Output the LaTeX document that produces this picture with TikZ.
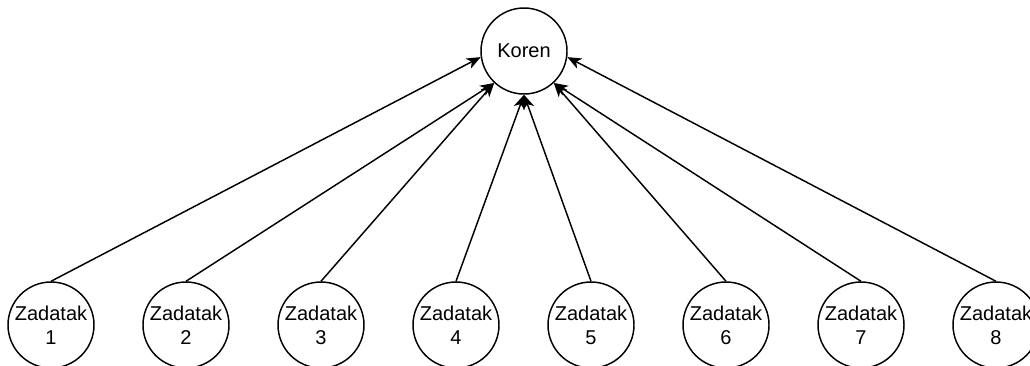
\documentclass[tikz,border=0pt]{standalone}
\usepackage{fontspec}
\setmainfont{Liberation Sans}
\usetikzlibrary{arrows.meta}
\begin{document}
\begin{tikzpicture}[x=0.75pt,y=-0.75pt,
  vertex/.style={circle,draw,line width=1.1pt,minimum size=64.5pt,inner sep=0pt,
    font=\fontsize{15pt}{18pt}\selectfont,align=center},
  edge/.style={line width=1.1pt,-{Stealth[length=10.5pt,width=8.5pt,inset=3pt]}}]
\useasboundingbox (0,0) rectangle (1030,365);
\node[vertex] (r) at (524,51) {Koren};
\foreach \i in {1,...,8}{
  \node[vertex] (z\i) at ({51+135*(\i-1)},325) {Zadatak\\\i};
}
\draw[edge] (z1.north) -- (r.188);
\draw[edge] (z2.north) -- (r.227);
\draw[edge] (z3.north) -- (r.227);
\draw[edge] (z4.north) -- (r.270);
\draw[edge] (z5.north) -- (r.270);
\draw[edge] (z6.north) -- (r.313);
\draw[edge] (z7.north) -- (r.313);
\draw[edge] (z8.north) -- (r.352);
\end{tikzpicture}
\end{document}
